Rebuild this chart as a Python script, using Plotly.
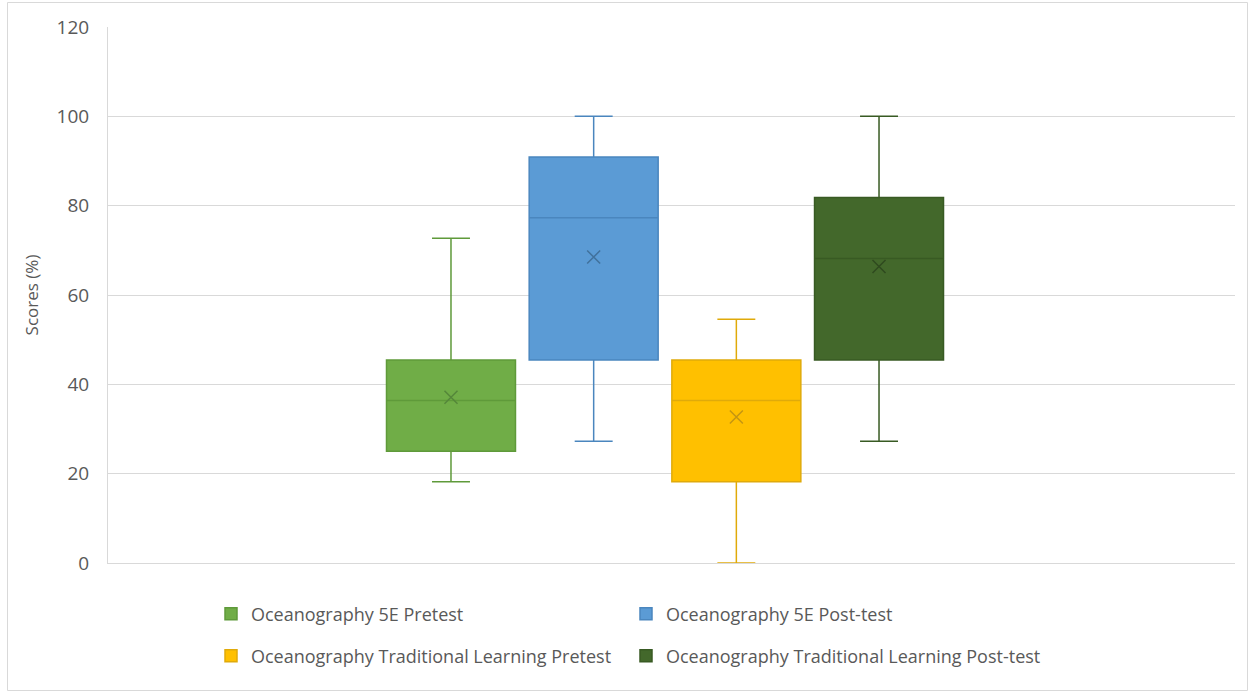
import plotly.graph_objects as go

# Summary statistics per group (scores in %)
groups = [
    "Oceanography 5E Pretest",
    "Oceanography 5E Post-test",
    "Oceanography Traditional Learning Pretest",
    "Oceanography Traditional Learning Post-test",
]
minimum = [18.18, 27.27, 0.0, 27.27]
q1 = [25.0, 45.45, 18.18, 45.45]
median = [36.36, 77.27, 36.36, 68.18]
q3 = [45.45, 90.91, 45.45, 81.82]
maximum = [72.73, 100.0, 54.55, 100.0]
mean = [37.1, 68.5, 32.7, 66.4]

y_ticks = [0, 20, 40, 60, 80, 100, 120]

fill_colors = ["#70AD47", "#5B9BD5", "#FFC000", "#43682B"]
line_colors = ["#5F9A3A", "#4A86BE", "#E0AA0A", "#385A23"]
mark_colors = ["#55873A", "#41719C", "#C49612", "#2F4A1F"]

positions = [1, 2, 3, 4]
box_width = 0.904
cap_half = 0.133

FONT = "Open Sans"
TEXT = "#595959"
GRID = "#D9D9D9"

fig = go.Figure()

for i, name in enumerate(groups):
    p = positions[i]
    fig.add_trace(go.Box(
        name=name,
        x=[p],
        lowerfence=[minimum[i]],
        q1=[q1[i]],
        median=[median[i]],
        q3=[q3[i]],
        upperfence=[maximum[i]],
        width=box_width,
        fillcolor=fill_colors[i],
        line=dict(color=line_colors[i], width=1.5),
        whiskerwidth=0,
        boxpoints=False,
        legend="legend" if i in (0, 1) else "legend2",
        hoverinfo="skip",
    ))
    # whisker caps
    for v in (minimum[i], maximum[i]):
        fig.add_trace(go.Scatter(
            x=[p - cap_half, p + cap_half], y=[v, v],
            mode="lines", line=dict(color=line_colors[i], width=1.5),
            showlegend=False, hoverinfo="skip",
        ))
    # mean marker
    fig.add_trace(go.Scatter(
        x=[p], y=[mean[i]], mode="markers",
        marker=dict(symbol="x-thin", size=13,
                    line=dict(color=mark_colors[i], width=1.5)),
        showlegend=False, hoverinfo="skip",
    ))

W, H = 1251, 692
L, R, T, B = 108, 16, 27, 129
pw = W - L - R
ph = H - T - B

def px_x(px):
    return (px - L) / pw

def px_y(py):
    return 1 - (py - T) / ph

legend_common = dict(
    orientation="h",
    xanchor="left",
    yanchor="middle",
    font=dict(family=FONT, size=18, color=TEXT),
    entrywidth=370,
    entrywidthmode="pixels",
    bgcolor="rgba(0,0,0,0)",
    itemclick=False,
    itemdoubleclick=False,
)

fig.update_layout(
    width=W, height=H,
    margin=dict(l=L, r=R, t=T, b=B),
    paper_bgcolor="white",
    plot_bgcolor="white",
    showlegend=True,
    legend=dict(x=px_x(211), y=px_y(614), **legend_common),
    legend2=dict(x=px_x(211), y=px_y(656), **legend_common),
    xaxis=dict(
        range=[-1.404, 6.495],
        showticklabels=False,
        showgrid=False,
        zeroline=False,
        showline=True,
        linecolor=GRID,
        linewidth=1,
        ticks="",
    ),
    yaxis=dict(
        range=[0, 120],
        tickvals=y_ticks,
        showgrid=True,
        gridcolor=GRID,
        gridwidth=1,
        zeroline=False,
        showline=True,
        linecolor=GRID,
        linewidth=1,
        ticks="",
        ticklabelstandoff=14,
        tickfont=dict(family=FONT, size=19, color=TEXT),
        title=dict(text="Scores (%)", font=dict(family=FONT, size=17, color=TEXT),
                   standoff=13),
    ),
    shapes=[dict(
        type="rect", xref="paper", yref="paper",
        x0=px_x(7.5), x1=px_x(1247.5), y0=px_y(690.5), y1=px_y(2.5),
        line=dict(color=GRID, width=1), fillcolor="rgba(0,0,0,0)", layer="below",
    )],
)

fig.write_html("out.html")
